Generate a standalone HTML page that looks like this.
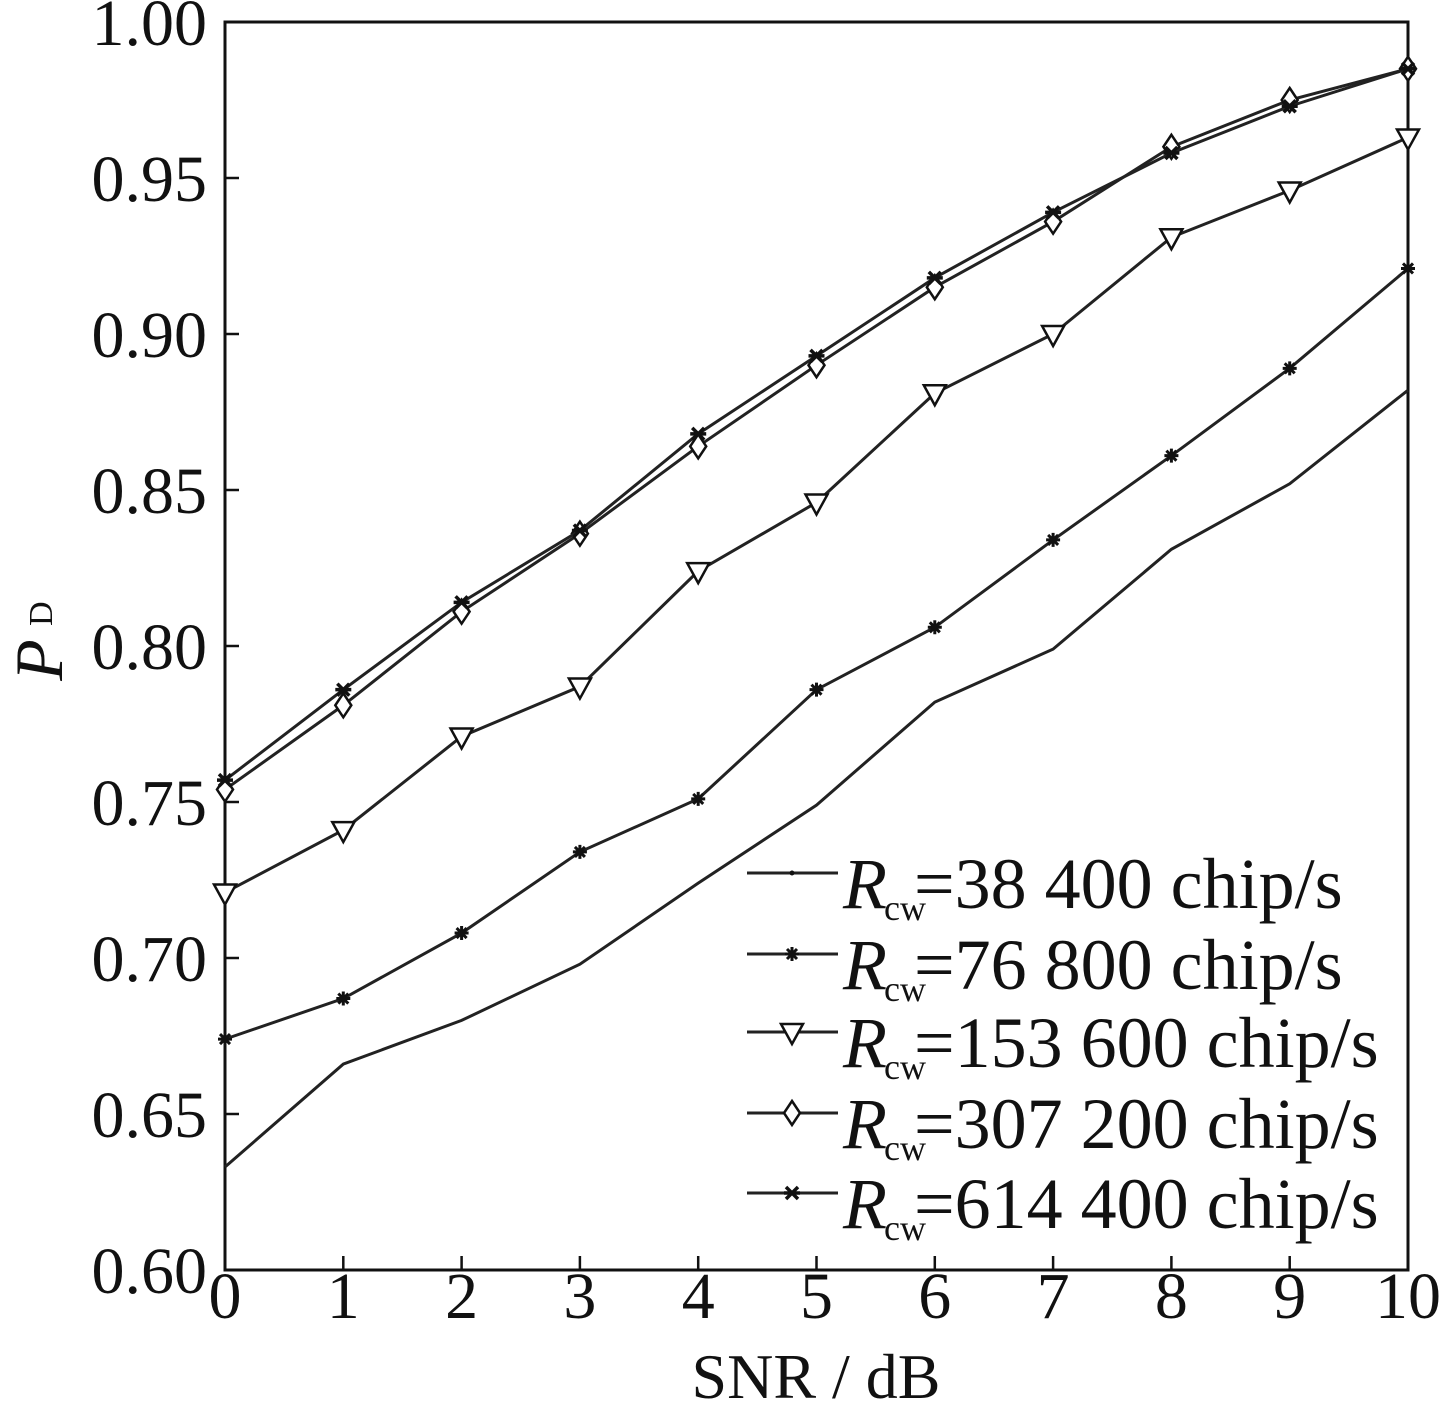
<!DOCTYPE html>
<html><head><meta charset="utf-8"><style>html,body{margin:0;padding:0;background:#fff}svg{display:block}</style></head>
<body>
<svg width="1440" height="1406" xmlns="http://www.w3.org/2000/svg" font-family="Liberation Serif, serif" fill="#111">
<defs>
<g id="star" stroke="#111" stroke-width="3"><path d="M-7,0H7M0,-7V7M-5,-5L5,5M-5,5L5,-5"/></g>
<g id="tri" fill="#fff" stroke="#111" stroke-width="2.5"><path d="M-11,-8H11L0,12Z"/></g>
<g id="dia" fill="#fff" stroke="#111" stroke-width="2.5"><path d="M0,-12L8,0L0,12L-8,0Z"/></g>
<g id="cross" stroke="#111" stroke-width="3.5"><path d="M-6,-6L6,6M-6,6L6,-6M-8,0H8"/></g>
<g id="dot"><circle r="2.5"/></g>
</defs>
<g stroke="#111" stroke-width="3" fill="none">
<rect x="225" y="22" width="1183" height="1248"/>
</g>
<g stroke="#111" stroke-width="2.5" id="ticks"></g>
<g id="labels" font-size="66"></g>
<text x="816" y="1398" font-size="64" text-anchor="middle">SNR / dB</text>
<g transform="translate(62,650) rotate(-90)"><text font-size="68" font-style="italic" text-anchor="middle" x="-10">P</text><text font-size="34" x="24" y="-10">D</text></g>
<g id="series" fill="none" stroke="#222" stroke-width="3"></g>
<g id="legend" font-size="72"></g>
<script>
const ns="http://www.w3.org/2000/svg";
function el(t,a,p){const e=document.createElementNS(ns,t);for(const k in a)e.setAttribute(k,a[k]);p.appendChild(e);return e;}
const X=v=>225+v*118.3, Y=v=>22+(1-v)/0.4*1248;
const T=document.getElementById('ticks'),L=document.getElementById('labels');
for(let i=0;i<=10;i++){el('line',{x1:X(i),x2:X(i),y1:1270,y2:1256},T);const t=el('text',{x:X(i),y:1318,'text-anchor':'middle'},L);t.textContent=i;}
for(let i=0;i<=8;i++){const v=0.6+i*0.05;el('line',{x1:225,x2:239,y1:Y(v),y2:Y(v)},T);const t=el('text',{x:207,y:Y(v)+23,'text-anchor':'end'},L);t.textContent=v.toFixed(2);}
const data=[
['dot',[0.633,0.666,0.680,0.698,0.724,0.749,0.782,0.799,0.831,0.852,0.882]],
['star',[0.674,0.687,0.708,0.734,0.751,0.786,0.806,0.834,0.861,0.889,0.921]],
['tri',[0.721,0.741,0.771,0.787,0.824,0.846,0.881,0.900,0.931,0.946,0.963]],
['dia',[0.754,0.781,0.811,0.836,0.864,0.890,0.915,0.936,0.960,0.975,0.985]],
['cross',[0.757,0.786,0.814,0.837,0.868,0.893,0.918,0.939,0.958,0.973,0.985]]];
const S=document.getElementById('series'),G=document.getElementById('legend');
data.forEach(([m,d])=>{el('polyline',{points:d.map((v,i)=>X(i)+','+Y(v)).join(' ')},S);
 d.forEach((v,i)=>{if(m!=='dot')el('use',{href:'#'+m,x:X(i),y:Y(v)},S);});});
const labs=['38 400','76 800','153 600','307 200','614 400'];
const rows=[873,954,1032,1113,1193];
data.forEach(([m],k)=>{const y=rows[k];el('line',{x1:747,x2:838,y1:y,y2:y,stroke:'#222','stroke-width':3},G);el('use',{href:'#'+m,x:792,y:y},G);
 const t1=el('text',{x:843,y:y+35,'font-style':'italic'},G);t1.textContent='R';
 const t2=el('text',{x:884,y:y+47,'font-size':36},G);t2.textContent='cw';
 const t3=el('text',{x:914,y:y+35},G);t3.textContent='='+labs[k]+' chip/s';});
</script>
</svg>
</body></html>
